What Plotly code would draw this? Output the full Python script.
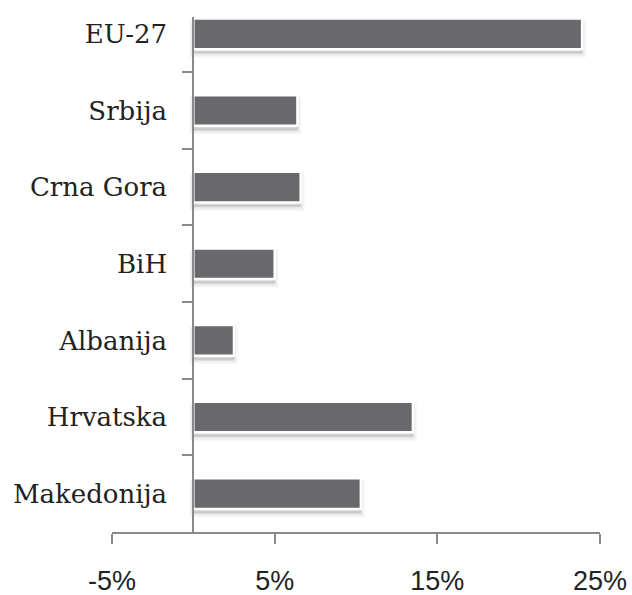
import plotly.graph_objects as go

categories = ["EU-27", "Srbija", "Crna Gora", "BiH", "Albanija", "Hrvatska", "Makedonija"]
values = [23.9, 6.4, 6.6, 5.0, 2.5, 13.5, 10.3]
x_tickvals = [-5, 5, 15, 25]
x_ticktext = ["-5%", "5%", "15%", "25%"]

BAR_W = 0.40
fig = go.Figure()

# soft shadow layers (blurred look via semi-transparent outlines)
for off, lw, alpha in [(0.06, 8, 0.035), (0.06, 5, 0.05), (0.05, 2.5, 0.07)]:
    fig.add_trace(go.Bar(
        y=categories, x=values, orientation="h",
        width=BAR_W, offset=-BAR_W / 2 + off,
        marker=dict(color=f"rgba(60,60,60,{alpha})",
                    line=dict(width=lw, color=f"rgba(60,60,60,{alpha})")),
        hoverinfo="skip", showlegend=False,
    ))

fig.add_trace(go.Bar(
    y=categories, x=values, orientation="h",
    width=BAR_W, offset=-BAR_W / 2,
    marker=dict(color="#69696d", line=dict(color="white", width=2.5)),
    showlegend=False,
))

axis_col = "#8a8a8a"
fig.update_layout(
    width=632, height=595,
    margin=dict(l=112, r=32, t=17, b=63),
    paper_bgcolor="white", plot_bgcolor="white",
    barmode="overlay",
    xaxis=dict(
        range=[-5, 25], tickvals=x_tickvals, ticktext=x_ticktext,
        showgrid=False, zeroline=False,
        showline=True, linecolor=axis_col, linewidth=2,
        ticks="outside", ticklen=10, tickwidth=2, tickcolor=axis_col,
        ticklabelstandoff=14,
        tickfont=dict(family="Liberation Sans", size=27, color="#222"),
        automargin=False,
    ),
    yaxis=dict(
        categoryorder="array", categoryarray=categories,
        range=[6.5, -0.22],
        anchor="free", position=1 / 6,
        showgrid=False, zeroline=False,
        showline=True, linecolor=axis_col, linewidth=2,
        ticks="outside", tickson="boundaries", ticklen=10, tickwidth=2, tickcolor=axis_col,
        ticklabelstandoff=20,
        tickfont=dict(family="DejaVu Serif", size=26, color="#222"),
        automargin=False,
    ),
)

fig.write_html("out.html", config={"displayModeBar": False},
               post_script="document.body.style.margin='0';document.body.style.overflow='hidden';")
